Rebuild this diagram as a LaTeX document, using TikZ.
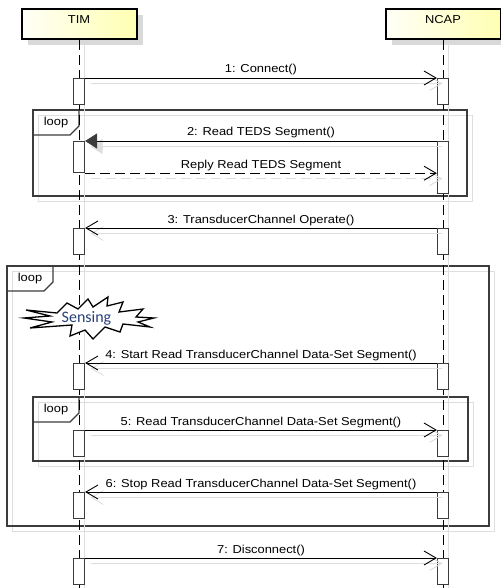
\documentclass[tikz,border=0pt]{standalone}
\usepackage{fontspec}
\newfontfamily\umlfont[FakeStretch=1.12]{Liberation Sans}
\newfontfamily\notefont{Carlito}
\usetikzlibrary{arrows.meta,shadows}
\definecolor{framegray}{RGB}{60,60,60}
\definecolor{ghostgray}{RGB}{222,222,222}
\definecolor{sensblue}{RGB}{40,64,122}

\begin{document}
\begin{tikzpicture}[x=1pt,y=-1pt,
  every node/.style={font=\umlfont\fontsize{11.5}{13}\selectfont},
  head/.style={draw,line width=2pt,minimum width=115pt,minimum height=30pt,inner sep=0,anchor=north,
    left color=yellow!3,right color=yellow!30,text height=8pt,text depth=8pt,
    drop shadow={shadow xshift=6pt,shadow yshift=-6pt,fill=black!15,opacity=1}},
  act/.style={draw=framegray,line width=1.2pt,fill=white,minimum width=11pt,inner sep=0,anchor=north},
  life/.style={line width=0.9pt,dash pattern=on 10pt off 5pt},
  msg/.style={line width=0.9pt,-{Straight Barb[length=12pt,width=14pt,line width=0.9pt]}},
  reply/.style={msg,dash pattern=on 10pt off 5pt},
  frm/.style={draw=framegray,line width=1.2pt},
  ghost/.style={draw=ghostgray,transform canvas={shift={(5.5,5.5)}}},
  lbl/.style={anchor=base,inner sep=0,yshift=5pt}]
\useasboundingbox (0,0) rectangle (500,588);

% combined fragments (loop frames)
\foreach \l/\t/\r/\b [count=\k] in {33/110/467/196, 7/266/489/526, 33/397/468/461}{%
  \draw[frm,ghost] (\l,\t) rectangle (\r,\b);
  \draw[frm] (\l,\t) rectangle (\r,\b);
  \draw[frm] (\l,\t+25) -- (\l+37,\t+25) -- (\l+46,\t+16) -- (\l+46,\t);
  \node (loop\k) at (\l+23,\t+13) {loop};}

% lifelines
\node[head] (tim) at (79,8) {TIM};
\node[head] (ncap) at (443,8) {NCAP};
\coordinate (timend) at (79,588);
\coordinate (ncapend) at (443,588);
\draw[ghost,line width=0.9pt] (tim.south) -- (timend);
\draw[ghost,line width=0.9pt] (ncap.south) -- (ncapend);
\draw[life] (tim.south) -- (timend);
\draw[life] (ncap.south) -- (ncapend);

% activation bars, t = TIM side, n = NCAP side
\foreach \n/\y/\ht/\hn in {1/78/26/26, 2/141/31/52, 3/228/26/26, 4/363/26/26,
                           5/430/26/26, 6/492/26/26, 7/558/26/26}{%
  \node[act,minimum height=\ht] (t\n) at (79,\y) {};
  \node[act,minimum height=\hn] (n\n) at (443,\y) {};}

% TIM -> NCAP
\foreach \n/\txt in {1/{1: Connect()}, 5/{5: Read TransducerChannel Data-Set Segment()},
                     7/{7: Disconnect()}}{%
  \draw[msg,ghost] (t\n.north east) -- (n\n.north west);
  \draw[msg] (t\n.north east) -- node[lbl] {\txt} (n\n.north west);}

% NCAP -> TIM
\foreach \n/\txt in {3/{3: TransducerChannel Operate()},
                     4/{4: Start Read TransducerChannel Data-Set Segment()},
                     6/{6: Stop Read TransducerChannel Data-Set Segment()}}{%
  \draw[msg,ghost] (n\n.north west) -- (t\n.north east);
  \draw[msg] (n\n.north west) -- node[lbl] {\txt} (t\n.north east);}

% TEDS request and its reply
\draw[ghost,line width=0.9pt,-{Triangle[length=12pt,width=15pt]}] (n2.north west) -- (t2.north east);
\draw[line width=0.9pt,-{Triangle[length=12pt,width=15pt,color=framegray]}]
  (n2.north west) -- node[lbl] {2: Read TEDS Segment()} (t2.north east);
\draw[reply,ghost] (t2.south east) -- (n2.west |- t2.south);
\draw[reply] (t2.south east) -- node[lbl] {Reply Read TEDS Segment} (n2.west |- t2.south);

% sensing burst
\draw[line width=1.3pt,fill=white] (26,310) -- (57,313) -- (67,303) -- (78,309) -- (88,299)
  -- (93,307) -- (108,297) -- (107,306) -- (123,302) -- (119,312) -- (143,309) -- (136,317)
  -- (154,318) -- (138,322) -- (150,327) -- (123,324) -- (120,332) -- (105,327) -- (93,339)
  -- (85,330) -- (70,336) -- (72,325) -- (30,328) -- (52,322) -- (24,318) -- (50,316) -- cycle;
\node[font=\notefont\fontsize{16}{18}\selectfont,text=sensblue,anchor=base] (sensing) at (86.5,322) {Sensing};
\end{tikzpicture}
\end{document}
